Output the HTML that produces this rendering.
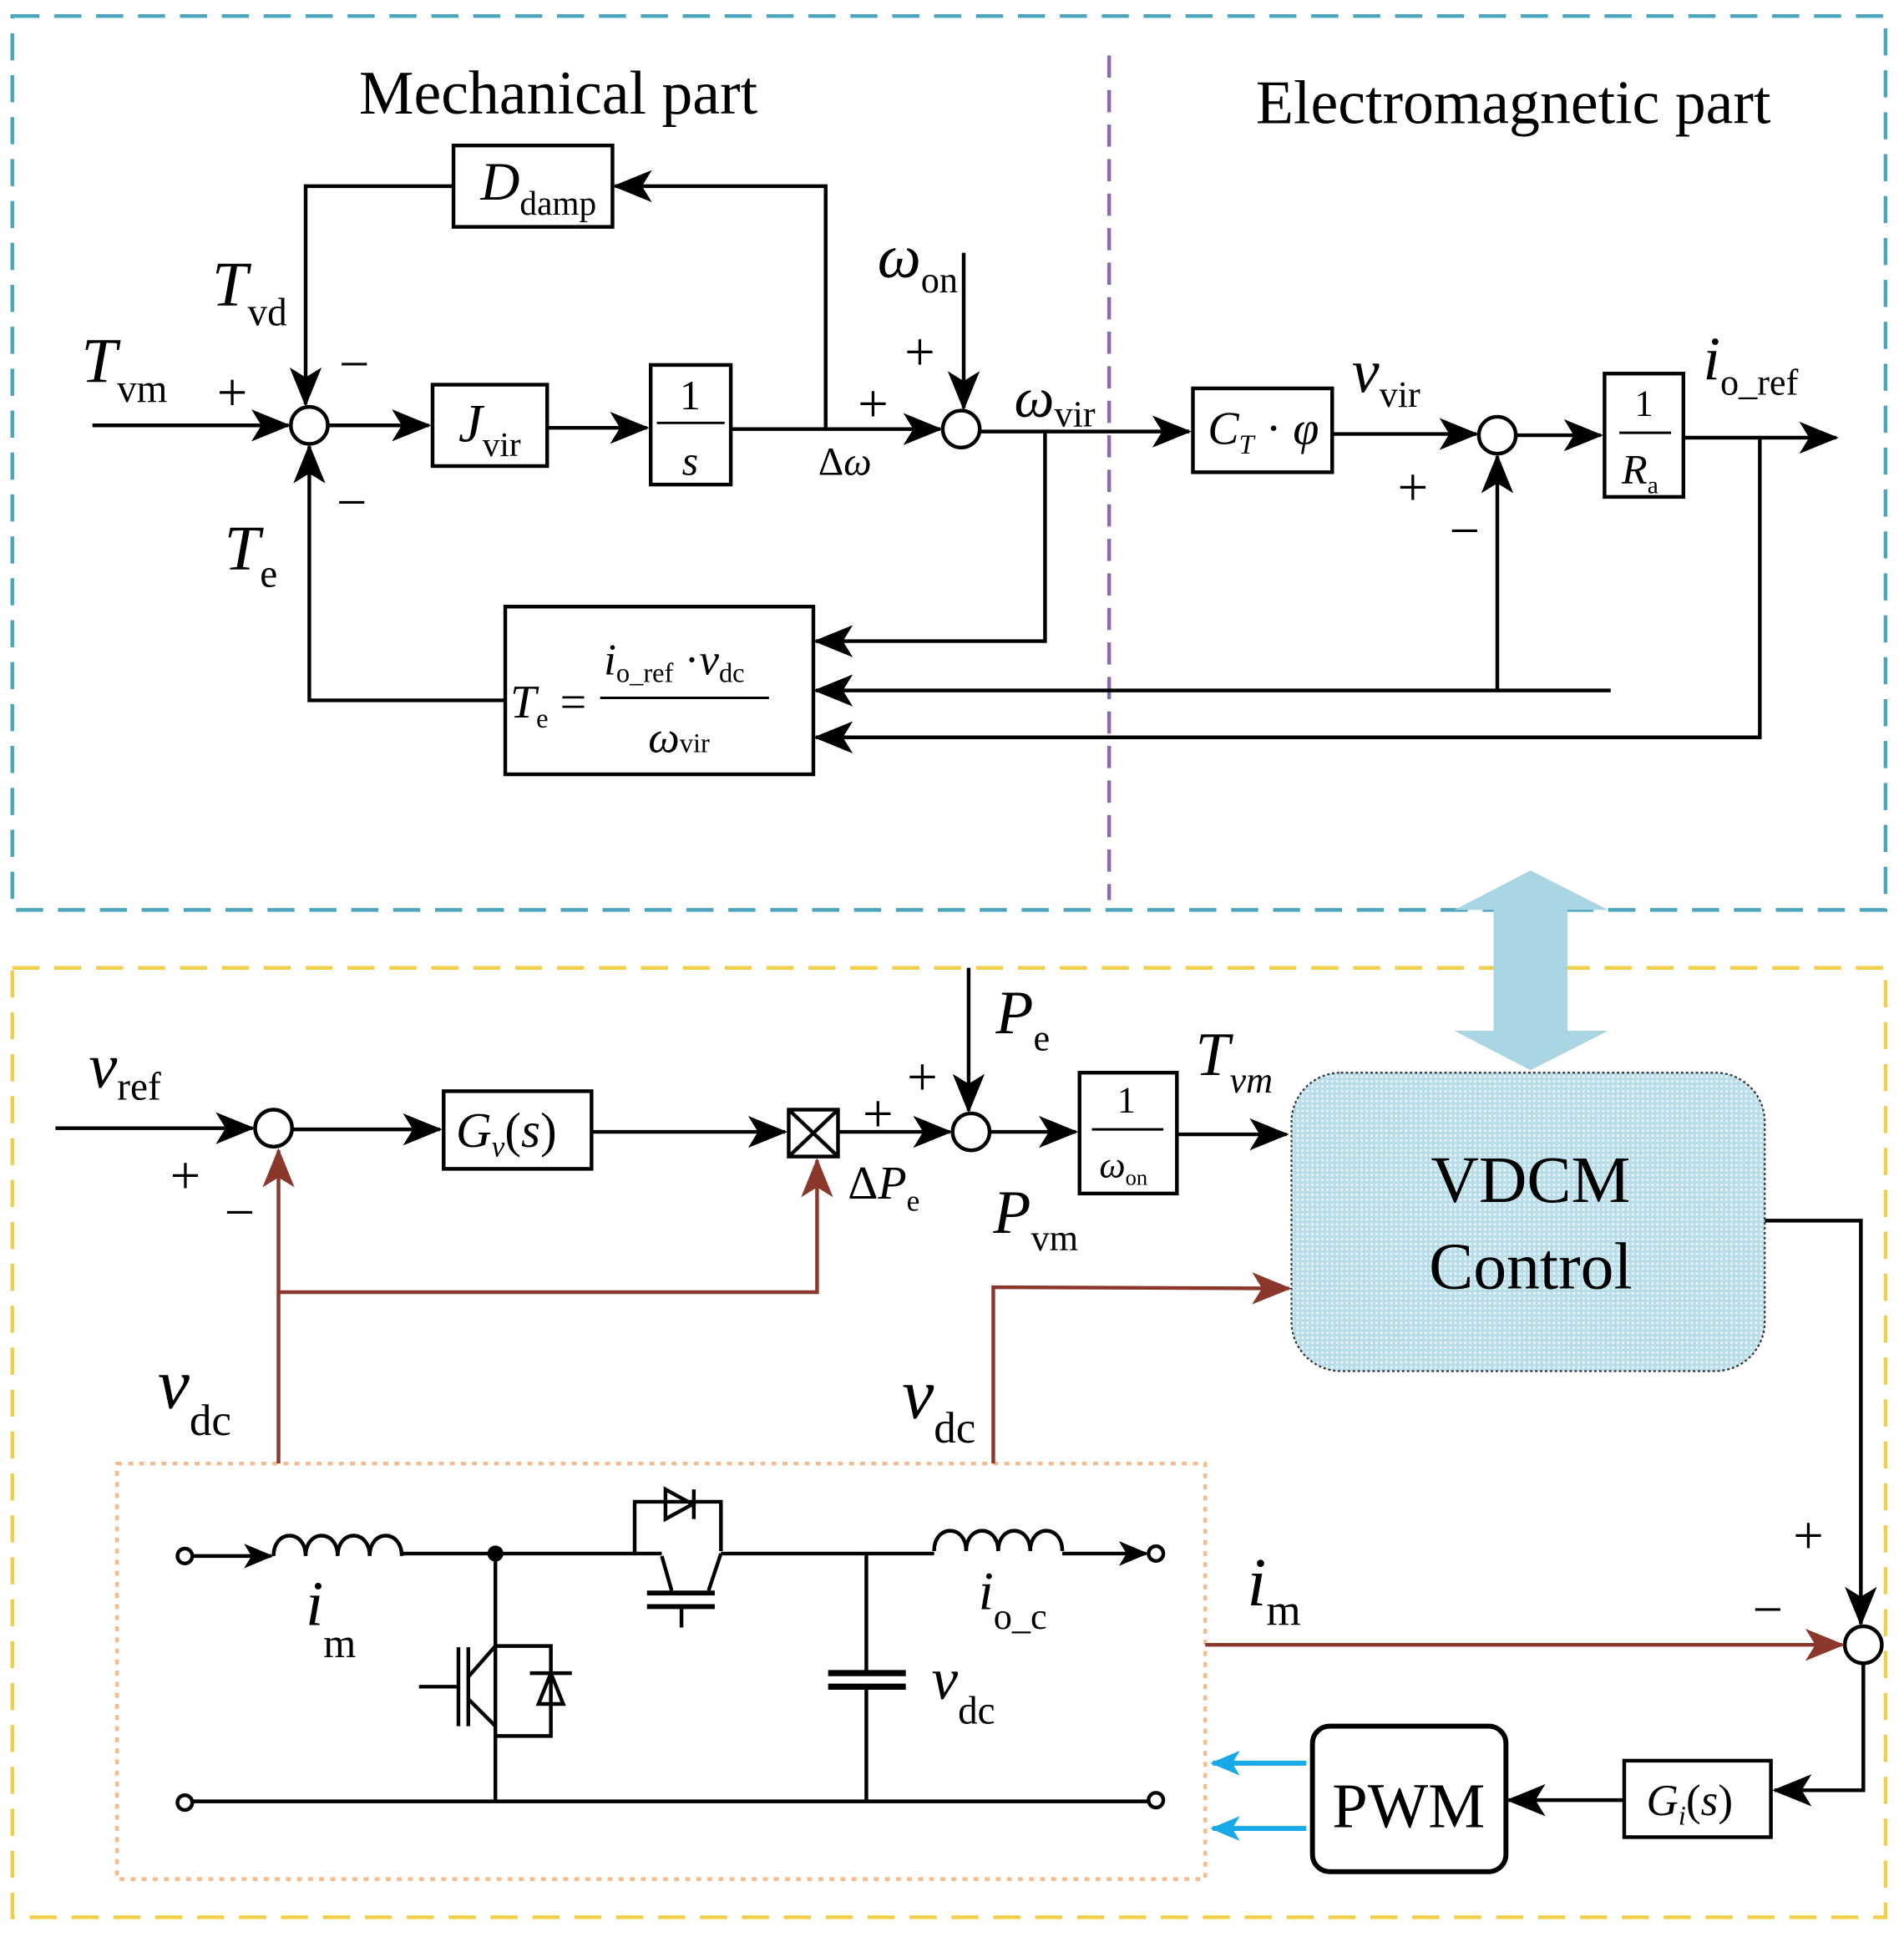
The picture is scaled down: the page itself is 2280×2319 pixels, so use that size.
<!DOCTYPE html>
<html><head><meta charset="utf-8"><style>
html,body{margin:0;padding:0;background:#fff}
svg{display:block}
text{font-family:"Liberation Serif",serif;fill:#000}
.i{font-style:italic}
</style></head><body>
<svg width="2280" height="2319" viewBox="0 0 1545 1571" preserveAspectRatio="none" xmlns="http://www.w3.org/2000/svg">
<defs>
<marker id="a" markerUnits="userSpaceOnUse" markerWidth="32" markerHeight="26" refX="30" refY="13" orient="auto"><path d="M0,0 L32,13 L0,26 L8,13 Z" fill="#000"/></marker>
<marker id="r" markerUnits="userSpaceOnUse" markerWidth="32" markerHeight="26" refX="30" refY="13" orient="auto"><path d="M0,0 L32,13 L0,26 L8,13 Z" fill="#8b372c"/></marker>
<marker id="b" markerUnits="userSpaceOnUse" markerWidth="24" markerHeight="20" refX="22" refY="10" orient="auto"><path d="M0,0 L24,10 L0,20 L6,10 Z" fill="#17a9e8"/></marker>
<marker id="s" markerUnits="userSpaceOnUse" markerWidth="24" markerHeight="20" refX="22" refY="10" orient="auto"><path d="M0,0 L24,10 L0,20 L6,10 Z" fill="#000"/></marker>
<pattern id="dots" width="4" height="4" patternUnits="userSpaceOnUse"><rect width="4" height="4" fill="#b9dde8"/><rect width="2" height="2" fill="#e6f3f7"/></pattern>
</defs>

<rect x="10" y="13" width="1520" height="725" fill="none" stroke="#4aa6bf" stroke-width="3" stroke-dasharray="22,12"/>
<line x1="900" y1="45" x2="900" y2="730" stroke="#8a6aa8" stroke-width="3" stroke-dasharray="18,10"/>
<rect x="10" y="785" width="1520" height="770" fill="none" stroke="#f2cf4a" stroke-width="3" stroke-dasharray="22,12"/>
<rect x="95" y="1187" width="883" height="337" fill="none" stroke="#f6bb8c" stroke-width="3" stroke-dasharray="4,5"/>

<text x="453" y="92" font-size="50" text-anchor="middle">Mechanical part</text>
<text x="1228" y="100" font-size="50" text-anchor="middle">Electromagnetic part</text>

<g stroke="#000" stroke-width="3" fill="none">
<line x1="75" y1="345" x2="234" y2="345" marker-end="url(#a)"/>
<circle cx="251" cy="345" r="15" fill="#fff"/>
<line x1="266" y1="345" x2="348" y2="345" marker-end="url(#a)"/>
<rect x="351" y="312" width="93" height="66" fill="#fff"/>
<line x1="444" y1="347" x2="525" y2="347" marker-end="url(#a)"/>
<rect x="528" y="296" width="65" height="97" fill="#fff"/>
<line x1="593" y1="348" x2="763" y2="348" marker-end="url(#a)"/>
<polyline points="670,348 670,151 499,151" marker-end="url(#a)"/>
<rect x="368" y="118" width="129" height="66" fill="#fff"/>
<polyline points="368,151 248,151 248,328" marker-end="url(#a)"/>
<line x1="782" y1="205" x2="782" y2="331" marker-end="url(#a)"/>
<circle cx="780" cy="348" r="15" fill="#fff"/>
<line x1="795" y1="350" x2="965" y2="350" marker-end="url(#a)"/>
<rect x="968" y="315" width="113" height="68" fill="#fff"/>
<polyline points="848,350 848,520 662,520" marker-end="url(#a)"/>
<line x1="1081" y1="352" x2="1198" y2="352" marker-end="url(#a)"/>
<circle cx="1215" cy="353" r="15" fill="#fff"/>
<line x1="1230" y1="353" x2="1299" y2="353" marker-end="url(#a)"/>
<rect x="1302" y="303" width="64" height="100" fill="#fff"/>
<line x1="1366" y1="355" x2="1490" y2="355" marker-end="url(#a)"/>
<polyline points="1428,355 1428,598 662,598" marker-end="url(#a)"/>
<line x1="1307" y1="560" x2="662" y2="560" marker-end="url(#a)"/>
<line x1="1215" y1="560" x2="1215" y2="370" marker-end="url(#a)"/>
<rect x="410" y="492" width="250" height="136" fill="#fff"/>
<polyline points="410,568 251,568 251,362" marker-end="url(#a)"/>
<line x1="1314" y1="351" x2="1356" y2="351" stroke-width="2"/>
<line x1="533" y1="343" x2="588" y2="343" stroke-width="2"/>
<line x1="487" y1="566" x2="624" y2="566" stroke-width="2"/>

<line x1="45" y1="915" x2="205" y2="915" marker-end="url(#a)"/>
<circle cx="222" cy="915" r="15" fill="#fff"/>
<line x1="237" y1="916" x2="357" y2="916" marker-end="url(#a)"/>
<rect x="360" y="885" width="120" height="63" fill="#fff"/>
<line x1="480" y1="918" x2="637" y2="918" marker-end="url(#a)"/>
<rect x="640" y="900" width="40" height="38" fill="#fff"/>
<line x1="640" y1="900" x2="680" y2="938"/><line x1="680" y1="900" x2="640" y2="938"/>
<line x1="680" y1="918" x2="771" y2="918" marker-end="url(#a)"/>
<line x1="786" y1="785" x2="786" y2="901" marker-end="url(#a)"/>
<circle cx="788" cy="918" r="15" fill="#fff"/>
<line x1="803" y1="918" x2="873" y2="918" marker-end="url(#a)"/>
<rect x="876" y="870" width="79" height="98" fill="#fff"/>
<line x1="886" y1="916" x2="944" y2="916" stroke-width="2"/>
<line x1="955" y1="920" x2="1044" y2="920" marker-end="url(#a)"/>
<polyline points="1432,990 1510,990 1510,1317" marker-end="url(#a)"/>
<circle cx="1512" cy="1334" r="15" fill="#fff"/>
<polyline points="1512,1349 1512,1452 1440,1452" marker-end="url(#a)"/>
<rect x="1318" y="1428" width="119" height="62" fill="#fff"/>
<line x1="1318" y1="1460" x2="1224" y2="1460" marker-end="url(#a)"/>
<rect x="1065" y="1400" width="157" height="118" rx="14" fill="#fff" stroke-width="4"/>
</g>

<g stroke="#8b372c" stroke-width="3" fill="none">
<line x1="226" y1="1187" x2="226" y2="933" marker-end="url(#r)"/>
<polyline points="226,1048 663,1048 663,941" marker-end="url(#r)"/>
<polyline points="806,1187 806,1044 1046,1045" marker-end="url(#r)"/>
<line x1="978" y1="1334" x2="1495" y2="1334" marker-end="url(#r)"/>
</g>
<g stroke="#17a9e8" stroke-width="4">
<line x1="1060" y1="1430" x2="984" y2="1430" marker-end="url(#b)"/>
<line x1="1060" y1="1483" x2="984" y2="1483" marker-end="url(#b)"/>
</g>

<polygon points="1242,706 1305,738 1272,738 1272,836 1305,836 1242,868 1180,836 1212,836 1212,738 1180,738" fill="#a9d6e2"/>
<rect x="1048" y="870" width="384" height="242" rx="40" fill="url(#dots)" stroke="#333" stroke-width="1.5" stroke-dasharray="2,2"/>
<text x="1242" y="975" font-size="54" text-anchor="middle">VDCM</text>
<text x="1242" y="1045" font-size="54" text-anchor="middle">Control</text>
<text x="1143" y="1482" font-size="52" text-anchor="middle">PWM</text>

<g stroke="#000" stroke-width="3" fill="none">
<circle cx="150" cy="1262" r="6" fill="#fff"/>
<line x1="156" y1="1262" x2="220" y2="1262" marker-end="url(#s)"/>
<path d="M222,1262 c0,-22 26,-22 26,0 c0,-22 26,-22 26,0 c0,-22 26,-22 26,0 c0,-22 26,-22 26,0"/>
<line x1="326" y1="1260" x2="515" y2="1260"/>
<circle cx="402" cy="1260" r="5" fill="#000"/>
<line x1="402" y1="1260" x2="402" y2="1460"/>
<polyline points="402,1335 447,1335 447,1408 402,1408"/>
<polygon points="437,1382 457,1382 447,1357" />
<line x1="430" y1="1357" x2="464" y2="1357"/>
<line x1="372" y1="1336" x2="372" y2="1400"/>
<line x1="380" y1="1336" x2="380" y2="1400"/>
<line x1="340" y1="1368" x2="372" y2="1368"/>
<line x1="380" y1="1360" x2="402" y2="1335"/>
<line x1="380" y1="1378" x2="402" y2="1400"/>
<polyline points="515,1260 515,1218 585,1218 585,1258"/>
<polygon points="540,1208 540,1232 562,1220"/>
<line x1="563" y1="1208" x2="563" y2="1232"/>
<line x1="515" y1="1260" x2="537" y2="1260"/>
<line x1="537" y1="1262" x2="545" y2="1290"/>
<line x1="585" y1="1260" x2="575" y2="1290"/>
<line x1="525" y1="1292" x2="580" y2="1292" stroke-width="4"/>
<line x1="525" y1="1303" x2="580" y2="1303" stroke-width="4"/>
<line x1="553" y1="1303" x2="553" y2="1320"/>
<line x1="585" y1="1260" x2="758" y2="1260"/>
<line x1="703" y1="1260" x2="703" y2="1355"/>
<line x1="672" y1="1357" x2="735" y2="1357" stroke-width="5"/>
<line x1="672" y1="1368" x2="735" y2="1368" stroke-width="5"/>
<line x1="703" y1="1370" x2="703" y2="1460"/>
<path d="M758,1258 c0,-22 26,-22 26,0 c0,-22 26,-22 26,0 c0,-22 26,-22 26,0 c0,-22 26,-22 26,0"/>
<line x1="862" y1="1260" x2="930" y2="1260" marker-end="url(#s)"/>
<circle cx="938" cy="1260" r="6" fill="#fff"/>
<circle cx="150" cy="1462" r="6" fill="#fff"/>
<line x1="156" y1="1461" x2="932" y2="1461"/>
<circle cx="938" cy="1460" r="6" fill="#fff"/>
</g>

<g font-size="44">
<text x="390" y="162" class="i">D<tspan font-size="28" font-style="normal" dy="12">damp</tspan></text>
<text x="172" y="248" class="i" font-size="52">T<tspan font-size="32" font-style="normal" dy="16">vd</tspan></text>
<text x="66" y="310" class="i" font-size="52">T<tspan font-size="32" font-style="normal" dy="16">vm</tspan></text>
<text x="176" y="333">+</text>
<text x="275" y="310">−</text>
<text x="273" y="422">−</text>
<text x="182" y="462" class="i" font-size="52">T<tspan font-size="32" font-style="normal" dy="14">e</tspan></text>
<text x="372" y="358" class="i">J<tspan font-size="28" font-style="normal" dy="12">vir</tspan></text>
<text x="560" y="332" font-size="34" text-anchor="middle">1</text>
<text x="560" y="385" font-size="34" text-anchor="middle" class="i">s</text>
<text x="664" y="385" font-size="32">Δ<tspan class="i">ω</tspan></text>
<text x="696" y="342">+</text>
<text x="712" y="225" class="i" font-size="50">ω<tspan font-size="30" font-style="normal" dy="12">on</tspan></text>
<text x="734" y="300">+</text>
<text x="823" y="338" class="i" font-size="46">ω<tspan font-size="30" font-style="normal" dy="8">vir</tspan></text>
<text x="980" y="360" class="i" font-size="38">C<tspan font-size="22" dy="8">T</tspan><tspan dy="-8" font-style="normal"> ·</tspan> φ</text>
<text x="1097" y="318" class="i" font-size="50">v<tspan font-size="30" font-style="normal" dy="12">vir</tspan></text>
<text x="1134" y="410">+</text>
<text x="1176" y="445">−</text>
<text x="1334" y="337" font-size="30" text-anchor="middle">1</text>
<text x="1316" y="392" font-size="34" class="i">R<tspan font-size="20" font-style="normal" dy="8">a</tspan></text>
<text x="1382" y="308" class="i" font-size="50">i<tspan font-size="30" font-style="normal" dy="12">o_ref</tspan></text>
<text x="414" y="582" class="i" font-size="38">T<tspan font-size="22" font-style="normal" dy="8">e</tspan><tspan dy="-8" font-style="normal"> =</tspan></text>
<text x="490" y="547" class="i" font-size="36">i<tspan font-size="22" font-style="normal" dy="6">o_ref</tspan><tspan dy="-6" font-style="normal"> ·</tspan>v<tspan font-size="22" font-style="normal" dy="6">dc</tspan></text>
<text x="526" y="610" class="i" font-size="36">ω<tspan font-size="22" font-style="normal">vir</tspan></text>

<text x="72" y="882" class="i" font-size="52">v<tspan font-size="32" font-style="normal" dy="10">ref</tspan></text>
<text x="138" y="968">+</text>
<text x="182" y="998">−</text>
<text x="370" y="930" class="i" font-size="40">G<tspan font-size="24" dy="8">v</tspan><tspan dy="-8" font-style="normal">(</tspan>s<tspan font-style="normal">)</tspan></text>
<text x="700" y="918">+</text>
<text x="736" y="888">+</text>
<text x="808" y="838" class="i" font-size="50">P<tspan font-size="30" font-style="normal" dy="14">e</tspan></text>
<text x="688" y="972" font-size="38">Δ<tspan class="i">P</tspan><tspan font-size="24" dy="10">e</tspan></text>
<text x="806" y="1000" class="i" font-size="50">P<tspan font-size="30" font-style="normal" dy="14">vm</tspan></text>
<text x="914" y="902" font-size="30" text-anchor="middle">1</text>
<text x="892" y="955" font-size="30" class="i">ω<tspan font-size="18" font-style="normal" dy="6">on</tspan></text>
<text x="970" y="872" class="i" font-size="50">T<tspan font-size="30" dy="14">vm</tspan></text>
<text x="128" y="1142" class="i" font-size="58">v<tspan font-size="36" font-style="normal" dy="22">dc</tspan></text>
<text x="732" y="1150" class="i" font-size="58">v<tspan font-size="36" font-style="normal" dy="20">dc</tspan></text>
<text x="1455" y="1260">+</text>
<text x="1422" y="1320">−</text>
<text x="1012" y="1302" class="i" font-size="56">i<tspan font-size="36" font-style="normal" dy="16">m</tspan></text>
<text x="1336" y="1472" class="i" font-size="36">G<tspan font-size="22" dy="8">i</tspan><tspan dy="-8" font-style="normal">(</tspan>s<tspan font-style="normal">)</tspan></text>
<text x="248" y="1318" class="i" font-size="52">i<tspan font-size="34" font-style="normal" dy="26">m</tspan></text>
<text x="794" y="1305" class="i" font-size="44">i<tspan font-size="30" font-style="normal" dy="16">o_c</tspan></text>
<text x="756" y="1378" class="i" font-size="48">v<tspan font-size="32" font-style="normal" dy="20">dc</tspan></text>
</g>
</svg>
</body></html>
